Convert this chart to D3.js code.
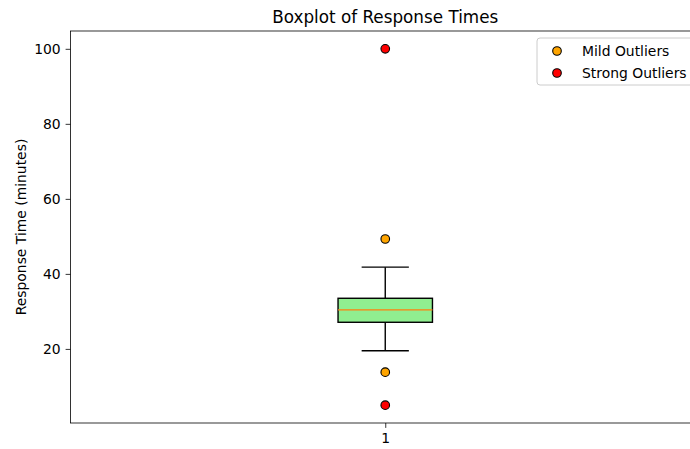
<!DOCTYPE html>
<html>
<head>
<meta charset="utf-8">
<script src="https://cdn.jsdelivr.net/npm/d3@7"></script>
<style>
  body { margin: 0; background: #fff; }
  svg { display: block; font-family: "DejaVu Sans", sans-serif; }
</style>
</head>
<body>
<svg id="chart" width="690" height="449"></svg>
<script>
// Box summary of response times (minutes)
const categories = [1];
const whiskerLow = [19.5];
const q1 = [27.1];
const median = [30.4];
const q3 = [33.5];
const whiskerHigh = [41.8];
const mildOutliers = [49.3, 13.8];
const strongOutliers = [100, 5];
const yTicks = [20, 40, 60, 80, 100];
const legendLabels = ["Mild Outliers", "Strong Outliers"];

const svg = d3.select("#chart");
const margin = { left: 70.5, right: 700, top: 31, bottom: 423 };
const fs = 13.9;

const x = d3.scaleLinear().domain([0.5, 1.5]).range([margin.left, margin.right]);
const y = d3.scaleLinear().domain([0.25, 104.75]).range([margin.bottom, margin.top]);

const boxW = x(1.075) - x(0.925);
const capW = boxW / 2;

// Title
svg.append("text")
  .attr("x", x(1)).attr("y", 22.5)
  .attr("text-anchor", "middle")
  .attr("font-size", 16.8)
  .text("Boxplot of Response Times");

// Y axis label
svg.append("text")
  .attr("transform", `translate(26,${(margin.top + margin.bottom) / 2}) rotate(-90)`)
  .attr("text-anchor", "middle")
  .attr("font-size", fs)
  .text("Response Time (minutes)");

// Axes
const yAxis = svg.append("g")
  .attr("transform", `translate(${margin.left},0)`)
  .call(d3.axisLeft(y).tickValues(yTicks).tickSize(4.9).tickPadding(4.9).tickFormat(d3.format("d")));
const xAxis = svg.append("g")
  .attr("transform", `translate(0,${margin.bottom})`)
  .call(d3.axisBottom(x).tickValues(categories).tickSize(4.9).tickPadding(4.9).tickFormat(d3.format("d")));
[yAxis, xAxis].forEach(a => {
  a.select(".domain").remove();
  a.selectAll(".tick line").attr("stroke", "#000").attr("stroke-width", 0.8);
  a.selectAll(".tick text").attr("font-size", fs).attr("fill", "#000")
    .attr("font-family", "DejaVu Sans, sans-serif");
});

// Frame
svg.append("rect")
  .attr("x", margin.left).attr("y", margin.top)
  .attr("width", margin.right - margin.left).attr("height", margin.bottom - margin.top)
  .attr("fill", "none").attr("stroke", "#000").attr("stroke-width", 0.8);

const g = svg.append("g");
categories.forEach((c, i) => {
  const cx = x(c);
  // whiskers
  g.append("line").attr("x1", cx).attr("x2", cx)
    .attr("y1", y(q3[i])).attr("y2", y(whiskerHigh[i]))
    .attr("stroke", "#000").attr("stroke-width", 1.4);
  g.append("line").attr("x1", cx).attr("x2", cx)
    .attr("y1", y(q1[i])).attr("y2", y(whiskerLow[i]))
    .attr("stroke", "#000").attr("stroke-width", 1.4);
  // caps
  [whiskerHigh[i], whiskerLow[i]].forEach(v => {
    g.append("line").attr("x1", cx - capW / 2).attr("x2", cx + capW / 2)
      .attr("y1", y(v)).attr("y2", y(v))
      .attr("stroke", "#000").attr("stroke-width", 1.4);
  });
  // box
  g.append("rect")
    .attr("x", cx - boxW / 2).attr("width", boxW)
    .attr("y", y(q3[i])).attr("height", y(q1[i]) - y(q3[i]))
    .attr("fill", "#90ee90").attr("stroke", "#000").attr("stroke-width", 1.4);
  // median
  g.append("line").attr("x1", cx - boxW / 2).attr("x2", cx + boxW / 2)
    .attr("y1", y(median[i])).attr("y2", y(median[i]))
    .attr("stroke", "#ff7f0e").attr("stroke-width", 1.4);
});

// Outliers
g.selectAll(".mild").data(mildOutliers).join("circle")
  .attr("cx", x(1)).attr("cy", d => y(d)).attr("r", 4.3)
  .attr("fill", "orange").attr("stroke", "#000").attr("stroke-width", 1.1);
g.selectAll(".strong").data(strongOutliers).join("circle")
  .attr("cx", x(1)).attr("cy", d => y(d)).attr("r", 4.3)
  .attr("fill", "red").attr("stroke", "#000").attr("stroke-width", 1.1);

// Legend
const legend = svg.append("g").attr("transform", "translate(537,38)");
legend.append("rect")
  .attr("x", 0).attr("y", 0).attr("width", 160).attr("height", 47)
  .attr("rx", 3).attr("fill", "#fff").attr("fill-opacity", 0.8)
  .attr("stroke", "#ccc").attr("stroke-width", 1);
const legendColors = ["orange", "red"];
legendLabels.forEach((lab, i) => {
  const ly = 13 + i * 22;
  legend.append("circle").attr("cx", 20).attr("cy", ly).attr("r", 4.3)
    .attr("fill", legendColors[i]).attr("stroke", "#000").attr("stroke-width", 1.1);
  legend.append("text").attr("x", 45).attr("y", ly + 5)
    .attr("font-size", fs).text(lab);
});
</script>
</body>
</html>
